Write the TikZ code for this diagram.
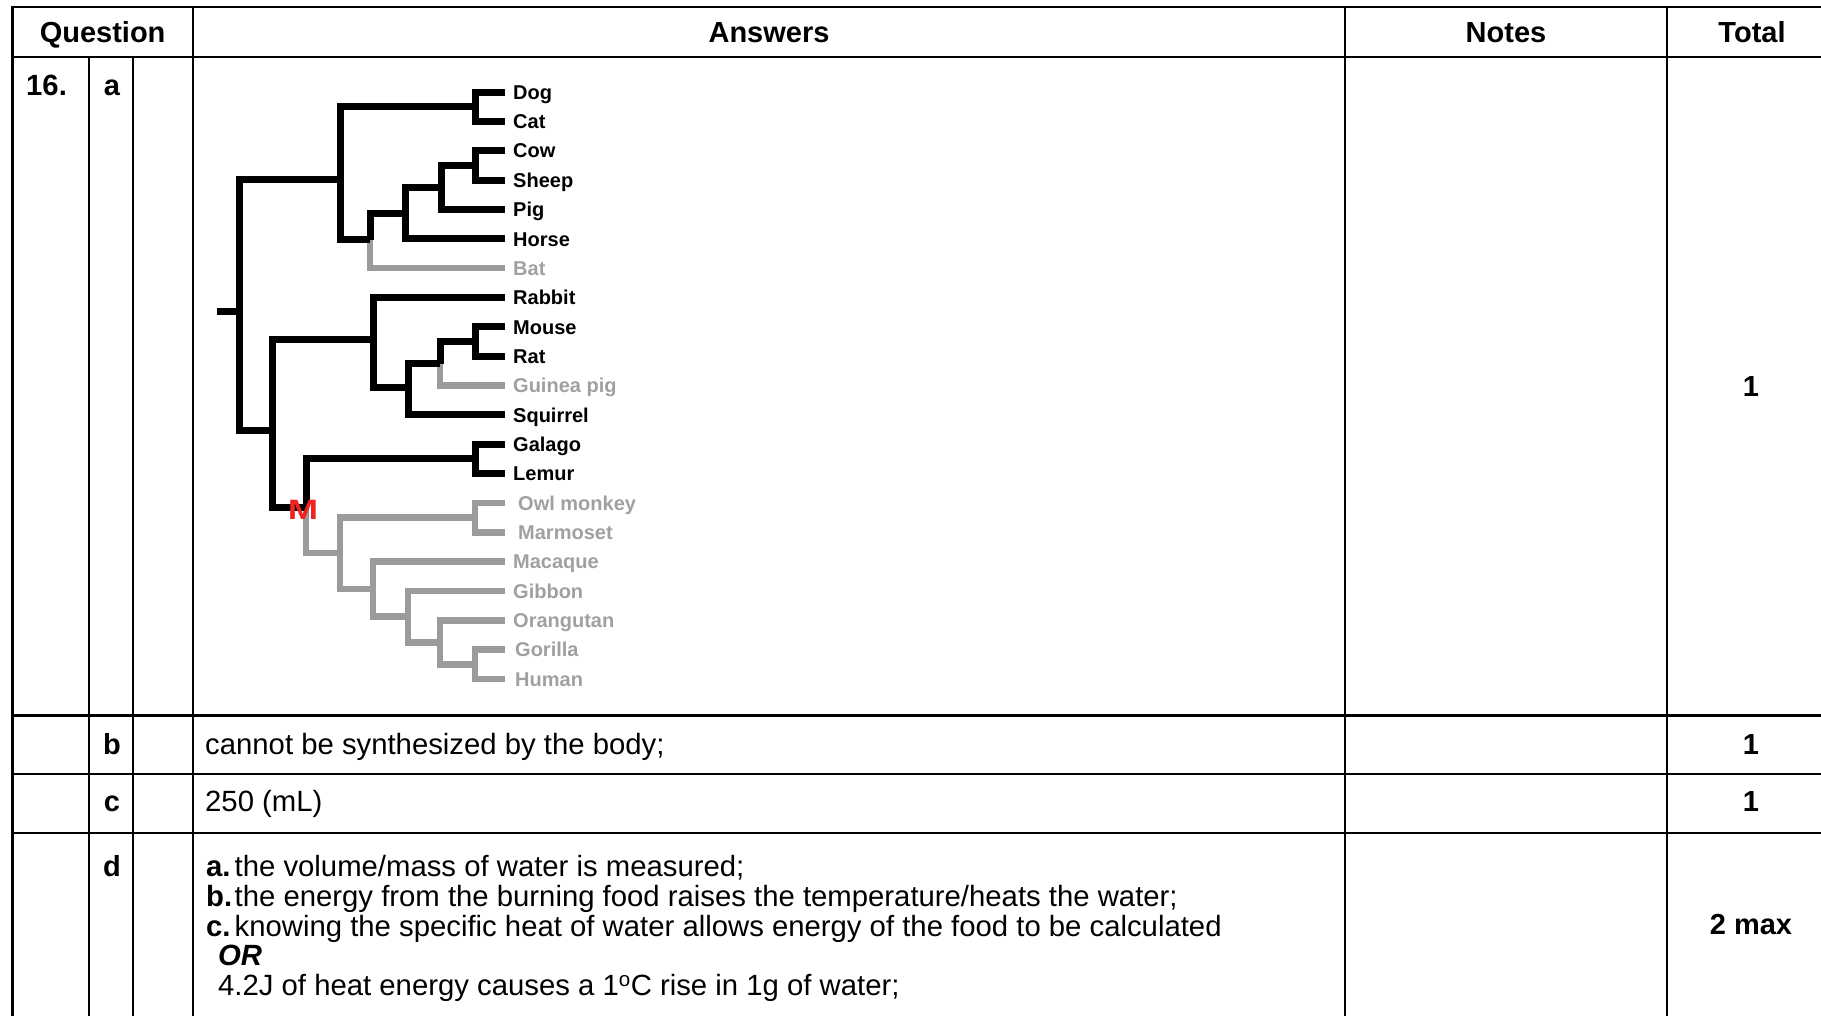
\documentclass[tikz,border=0pt]{standalone}
\usepackage{fontspec}
\setmainfont{Liberation Sans}
\definecolor{treegray}{RGB}{155,155,155}
\definecolor{labgray}{RGB}{160,160,160}
\definecolor{mred}{RGB}{240,35,35}
\begin{document}
\begin{tikzpicture}[x=1pt,y=-1pt,
  grid/.style={line width=2.2pt, black},
  br/.style={line width=7pt, line join=miter, black},
  brg/.style={line width=6.5pt, line join=miter, treegray},
  lab/.style={anchor=base west, inner sep=0pt, font=\fontsize{20}{22}\selectfont\bfseries},
  labg/.style={lab, text=labgray},
  txt/.style={anchor=base west, inner sep=0pt, font=\fontsize{29.3}{30}\selectfont},
  txtb/.style={anchor=base west, inner sep=0pt, font=\fontsize{29.3}{30}\selectfont\bfseries},
  hd/.style={anchor=base, inner sep=0pt, font=\fontsize{29}{30}\selectfont\bfseries},
]
\useasboundingbox (0,0) rectangle (1821,1015);
\begin{scope}
\clip (0,0) rectangle (1821,1015);
% table lines
\draw[grid] (12.5,6.7) -- (1840,6.7);
\draw[grid] (12.5,56.7) -- (1840,56.7);
\draw[grid] (12.5,715.5) -- (1840,715.5);
\draw[grid] (12.5,774) -- (1840,774);
\draw[grid] (12.5,833) -- (1840,833);
\draw[grid] (12.5,5.6) -- (12.5,1030);
\draw[grid] (89.3,56.7) -- (89.3,1030);
\draw[grid] (132.7,56.7) -- (132.7,1030);
\draw[grid] (192.7,5.6) -- (192.7,1030);
\draw[grid] (1345.3,5.6) -- (1345.3,1030);
\draw[grid] (1666.7,5.6) -- (1666.7,1030);
\end{scope}

% header
\node[hd] (hQ) at (102.6,42.5) {Question};
\node[hd] (hA) at (769,42.5) {Answers};
\node[hd] (hN) at (1506,42.5) {Notes};
\node[hd] (hT) at (1752,42.5) {Total};

% row labels
\node[txtb] (q16) at (26,95.5) {16.};
\node[hd] (qa) at (112,95.5) {a};
\node[hd] (qb) at (112,754.4) {b};
\node[hd] (qc) at (112,811.5) {c};
\node[hd] (qd) at (112,876.5) {d};

% answers
\node[txt] (ansb) at (205,754.4) {cannot be synthesized by the body;};
\node[txt] (ansc) at (205,811.5) {250 (mL)};
\node[txtb] (da) at (206,876.5) {a.};
\node[txt] (dat) at (234.5,876.5) {the volume/mass of water is measured;};
\node[txtb] (db) at (206,906.3) {b.};
\node[txt] (dbt) at (234.5,906.3) {the energy from the burning food raises the temperature/heats the water;};
\node[txtb] (dc) at (206,936) {c.};
\node[txt] (dct) at (234.5,936) {knowing the specific heat of water allows energy of the food to be calculated};
\node[txtb] (dor) at (218,965.7) {\itshape OR};
\node[txt] (dalt) at (218,995.5) {4.2J of heat energy causes a 1\textsuperscript{o}C rise in 1g of water;};

% totals
\node[hd] (ta) at (1751,396.4) {1};
\node[hd] (tb) at (1751,754.4) {1};
\node[hd] (tc) at (1751,811.5) {1};
\node[hd] (td) at (1751,934) {2 max};

% ---------- tree ----------
% tips
\coordinate (tDog) at (505,92);
\coordinate (tCat) at (505,121.4);
\coordinate (tCow) at (505,150.7);
\coordinate (tSheep) at (505,180.1);
\coordinate (tPig) at (505,209.4);
\coordinate (tHorse) at (505,238.8);
\coordinate (tBat) at (505,268.1);
\coordinate (tRabbit) at (505,297.5);
\coordinate (tMouse) at (505,326.8);
\coordinate (tRat) at (505,356.2);
\coordinate (tGP) at (505,385.5);
\coordinate (tSq) at (505,414.9);
\coordinate (tGalago) at (505,444.2);
\coordinate (tLemur) at (505,473.6);
\coordinate (tOwl) at (505,502.9);
\coordinate (tMarm) at (505,532.3);
\coordinate (tMac) at (505,561.6);
\coordinate (tGibbon) at (505,591);
\coordinate (tOrang) at (505,620.3);
\coordinate (tGorilla) at (505,649.7);
\coordinate (tHuman) at (505,679);
% internal nodes
\coordinate (DC) at (475,106.7);
\coordinate (CS) at (475,165.4);
\coordinate (CSP) at (441.7,187.4);
\coordinate (Ung) at (405.7,213.1);
\coordinate (UB) at (370,239.5);
\coordinate (Laur) at (340,179.5);
\coordinate (MR) at (475,341.5);
\coordinate (MRG) at (440,363.5);
\coordinate (Rod) at (408,387);
\coordinate (Gli) at (373,339);
\coordinate (GL) at (475,458.9);
\coordinate (OM) at (475,517.6);
\coordinate (GH) at (475,664.3);
\coordinate (OGH) at (440,642.3);
\coordinate (Gib) at (408,616.7);
\coordinate (Mac) at (373,589);
\coordinate (Anth) at (340,553);
\coordinate (Prim) at (306,507);
\coordinate (Euar) at (272,430);
\coordinate (Bor) at (239,311.7);
\coordinate (Rt) at (217,311.7);

% gray branches
\draw[brg] (UB) |- (tBat);
\draw[brg] (MRG) |- (tGP);
\draw[brg] (Prim) |- (Anth);
\draw[brg] (OM) -| (Anth) |- (Mac);
\draw[brg] (tOwl) -| (OM) |- (tMarm);
\draw[brg] (tMac) -| (Mac) |- (Gib);
\draw[brg] (tGibbon) -| (Gib) |- (OGH);
\draw[brg] (tOrang) -| (OGH) |- (GH);
\draw[brg] (tGorilla) -| (GH) |- (tHuman);

% black branches
\draw[br] (tDog) -| (DC) |- (tCat);
\draw[br] (tCow) -| (CS) |- (tSheep);
\draw[br] (CS) -| (CSP) |- (tPig);
\draw[br] (CSP) -| (Ung) |- (tHorse);
\draw[br] (Ung) -| (UB);
\draw[br] (DC) -| (Laur) |- (UB);
\draw[br] (tMouse) -| (MR) |- (tRat);
\draw[br] (MR) -| (MRG);
\draw[br] (MRG) -| (Rod) |- (tSq);
\draw[br] (tRabbit) -| (Gli) |- (Rod);
\draw[br] (tGalago) -| (GL) |- (tLemur);
\draw[br] (GL) -| (Prim);
\draw[br] (Gli) -| (Euar) |- (Prim);
\draw[br] (Laur) -| (Bor) |- (Euar);
\draw[br] (Rt) -- (Bor);

% labels
\node[lab] (nDog) at (513,99.2) {Dog};
\node[lab] (nCat) at (513,128.6) {Cat};
\node[lab] (nCow) at (513,157.9) {Cow};
\node[lab] (nSheep) at (513,187.3) {Sheep};
\node[lab] (nPig) at (513,216.6) {Pig};
\node[lab] (nHorse) at (513,246) {Horse};
\node[labg] (nBat) at (513,275.3) {Bat};
\node[lab] (nRabbit) at (513,304.7) {Rabbit};
\node[lab] (nMouse) at (513,334) {Mouse};
\node[lab] (nRat) at (513,363.4) {Rat};
\node[labg] (nGP) at (513,392.7) {Guinea pig};
\node[lab] (nSq) at (513,422.1) {Squirrel};
\node[lab] (nGalago) at (513,451.4) {Galago};
\node[lab] (nLemur) at (513,480.8) {Lemur};
\node[labg] (nOwl) at (518,510.1) {Owl monkey};
\node[labg] (nMarm) at (518,539.5) {Marmoset};
\node[labg] (nMac) at (513,568.8) {Macaque};
\node[labg] (nGibbon) at (513,598.2) {Gibbon};
\node[labg] (nOrang) at (513,627.5) {Orangutan};
\node[labg] (nGorilla) at (515,656.9) {Gorilla};
\node[labg] (nHuman) at (515,686.2) {Human};

% red M
\node[font=\fontsize{28}{28}\selectfont\bfseries, text=mred, inner sep=0pt] (Mlab) at (303,510) {\scalebox{1.3}[1]{M}};
\end{tikzpicture}
\end{document}
